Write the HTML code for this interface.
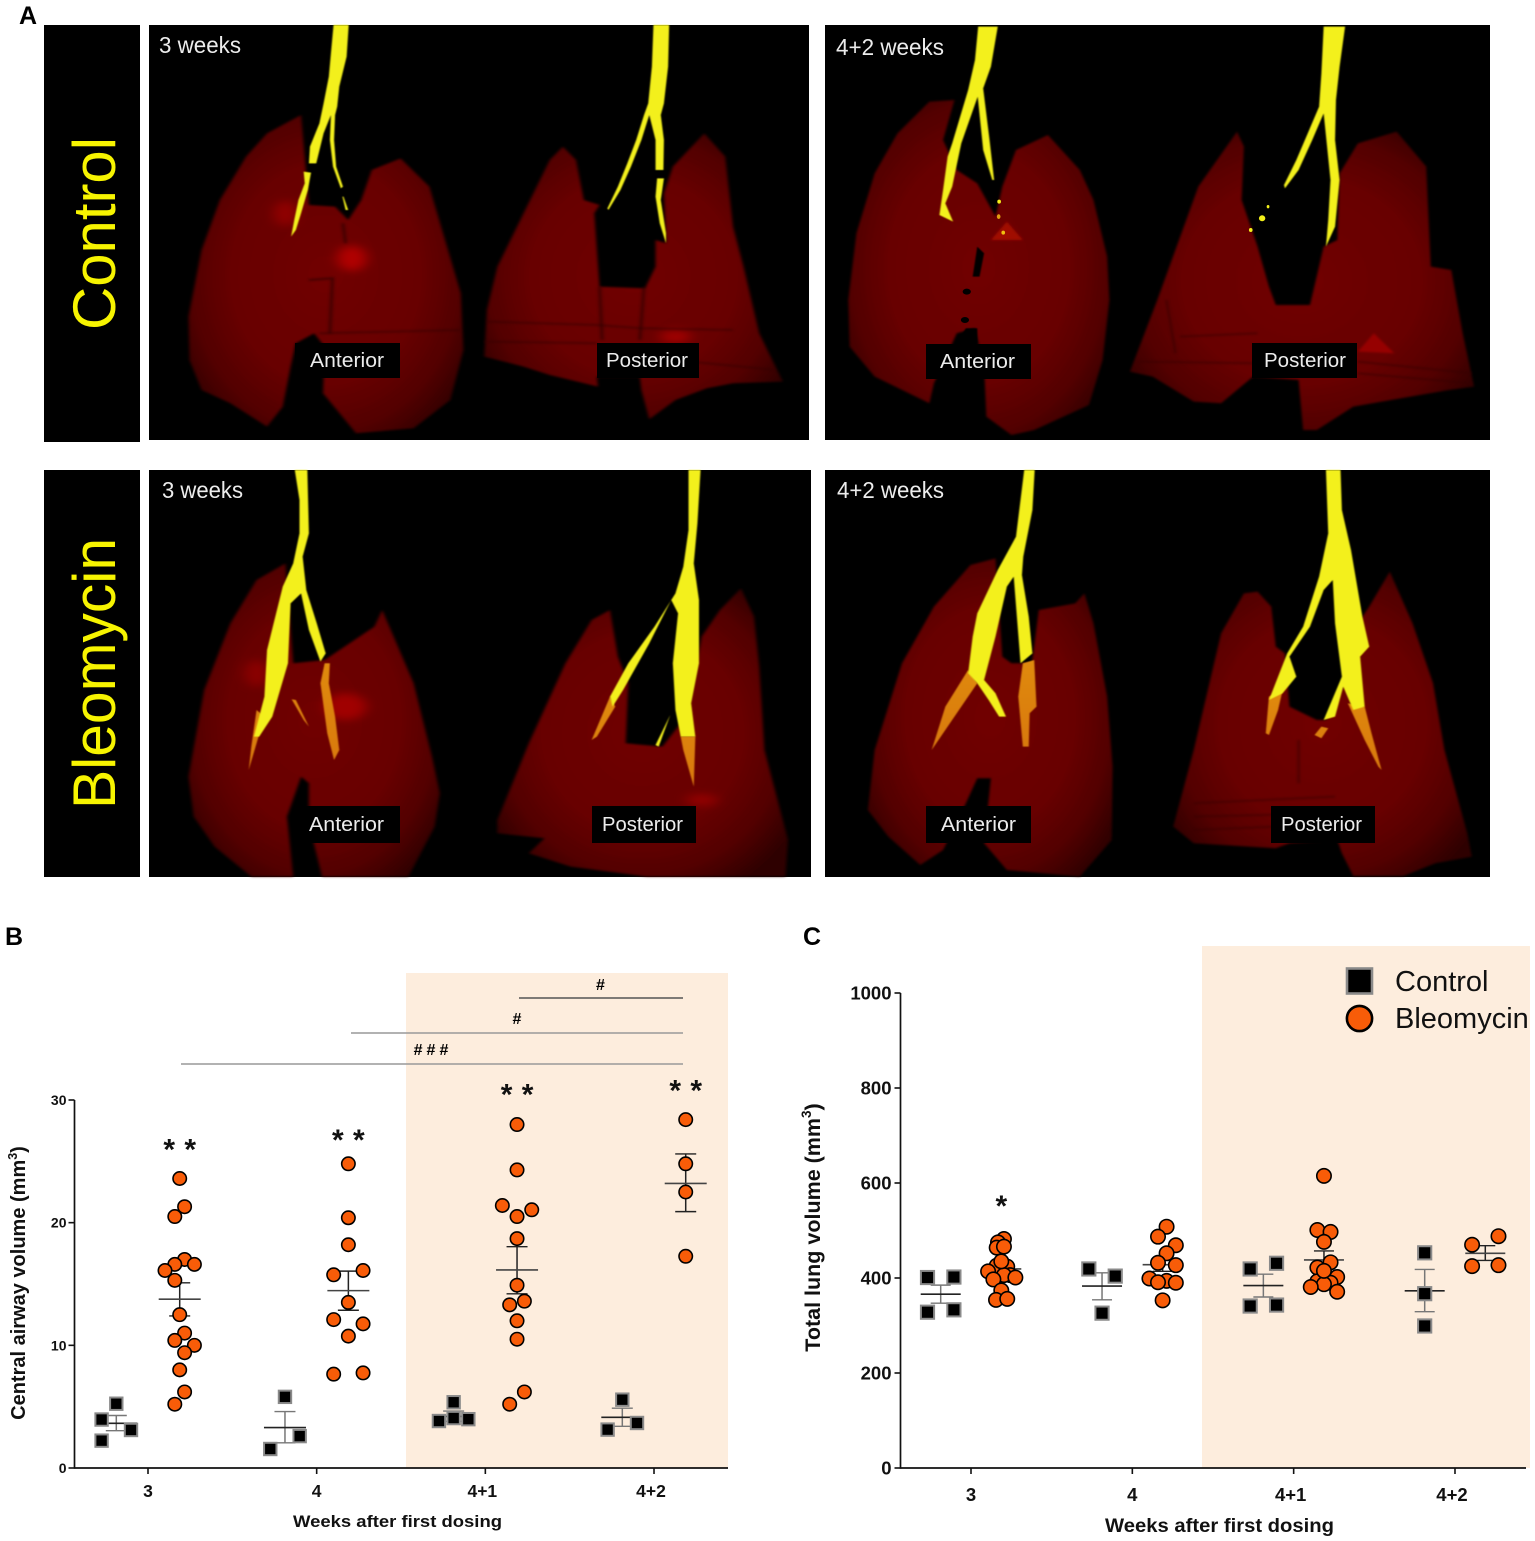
<!DOCTYPE html>
<html lang="en">
<head>
<meta charset="utf-8">
<title>Airway and lung volume after bleomycin dosing</title>
<style>
html,body{margin:0;padding:0;background:#fff;}
svg{display:block;font-family:"Liberation Sans",sans-serif;}
</style>
</head>
<body>
<svg id="figure" xmlns="http://www.w3.org/2000/svg" width="1535" height="1541" viewBox="0 0 1535 1541">
<defs>
<radialGradient id="lungFill" cx="50%" cy="50%" r="62%">
<stop offset="0%" stop-color="#700000"/><stop offset="55%" stop-color="#680000"/><stop offset="80%" stop-color="#520000"/><stop offset="100%" stop-color="#2e0000"/>
</radialGradient>
<linearGradient id="orangeFill" x1="0" y1="0" x2="0" y2="1">
<stop offset="0%" stop-color="#e08a10"/><stop offset="100%" stop-color="#d87810"/>
</linearGradient>
<filter id="softLung" x="-5%" y="-5%" width="110%" height="110%"><feGaussianBlur stdDeviation="3"/></filter>
<filter id="softPatch" x="-60%" y="-60%" width="220%" height="220%"><feGaussianBlur stdDeviation="12"/></filter>
<filter id="softBand" x="-5%" y="-20%" width="110%" height="140%"><feGaussianBlur stdDeviation="3"/></filter>
<filter id="softTree" x="-10%" y="-5%" width="120%" height="110%"><feGaussianBlur stdDeviation="1.6"/></filter>
</defs>
<rect width="1535" height="1541" fill="#fff"/>

<!-- PANEL A -->
<g>
<text x="19" y="24" font-size="25" font-weight="bold">A</text>

<rect x="44" y="25" width="96" height="417" fill="#000"/>
<text transform="translate(115 330) rotate(-90)" font-size="60" fill="#f7f400" textLength="193" lengthAdjust="spacingAndGlyphs">Control</text>
<rect x="44" y="470" width="96" height="407" fill="#000"/>
<text transform="translate(115 809) rotate(-90)" font-size="60" fill="#f7f400" textLength="271" lengthAdjust="spacingAndGlyphs">Bleomycin</text>

<rect x="149" y="25" width="660" height="415" fill="#000"/>
<rect x="825" y="25" width="665" height="415" fill="#000"/>
<rect x="149" y="470" width="662" height="407" fill="#000"/>
<rect x="825" y="470" width="665" height="407" fill="#000"/>

<g transform="matrix(0.5236 0 0 0.3333 0 0)">
<path filter="url(#softLung)" fill="url(#lungFill)" d="M575 345L510 400L470 470L420 600L385 750L360 950L362 1080L385 1170L440 1210L510 1280L540 1220L555 1100L565 1030L600 1000L620 1040L617 1180L680 1300L790 1285L860 1200L885 1050L880 880L850 720L820 560L765 475L710 510L690 600L665 660L640 620L590 615Z"/>
<path filter="url(#softLung)" fill="url(#lungFill)" d="M1075 440L1100 480L1115 600L1145 615L1135 640L1145 860L1232 865L1252 800L1252 720L1272 730L1268 580L1285 500L1345 400L1385 470L1400 680L1420 800L1450 1000L1495 1145L1400 1150L1350 1165L1290 1200L1240 1258L1225 1170L1222 1130L1140 1130L1142 1160L1050 1125L1000 1100L925 1070L930 930L950 800L1000 640L1050 480Z"/>
<ellipse cx="672" cy="775" rx="28" ry="38" fill="#b00000" filter="url(#softPatch)"/>
<ellipse cx="545" cy="640" rx="22" ry="38" fill="#900000" filter="url(#softPatch)"/>
<ellipse cx="1290" cy="1010" rx="30" ry="20" fill="#a00000" filter="url(#softPatch)"/>
<path filter="url(#softBand)" d="M930 965L1140 975L1225 985L1400 990M925 1025L1140 1030M1220 1070L1480 1110M610 1000L880 990" stroke="#320000" stroke-width="6" fill="none" opacity=".5"/>
<path filter="url(#softBand)" d="M655 670L660 730M590 840L635 835L630 1000M1145 860L1150 1020M1230 860L1222 1020" stroke="#280000" stroke-width="6" fill="none" opacity=".6"/>
<path filter="url(#softTree)" fill="#f3f01a" d="M637 75L666 75L662 170L648 260L644 320L640 345L638 420L642 500L655 560L651 565L636 500L630 420L632 345L618 400L604 490L590 490L592 440L610 370L618 310L628 230L632 160Z M580 515L594 518L588 570L575 640L565 690L556 710L562 660L570 600L582 550Z M656 590L665 630L660 630L654 590Z"/>
<path filter="url(#softTree)" fill="#f3f01a" d="M1248 75L1278 75L1276 200L1268 310L1262 345L1268 420L1267 510L1252 510L1252 420L1240 345L1225 420L1205 500L1185 570L1162 630L1160 625L1180 560L1198 490L1215 420L1230 345L1238 310L1245 200Z M1255 535L1268 535L1262 600L1272 700L1272 730L1260 670L1252 590Z"/>
</g>

<g transform="matrix(0.4558 0 0 0.3333 820 0)">
<path filter="url(#softLung)" fill="url(#lungFill)" d="M295 300L240 305L170 400L120 520L80 700L62 900L65 1040L120 1130L240 1210L250 1150L300 1000L340 985L360 1100L365 1250L420 1305L470 1290L590 1215L620 1080L635 900L630 770L600 600L570 510L500 405L430 450L400 560L385 650L345 550L300 510L270 420Z"/>
<path filter="url(#softLung)" fill="url(#lungFill)" d="M915 395L930 440L925 600L960 740L985 860L1000 915L1075 915L1105 740L1135 720L1140 520L1180 430L1265 395L1330 500L1340 800L1385 810L1410 1000L1435 1160L1380 1170L1170 1220L1090 1290L1060 1290L1050 1140L950 1130L880 1210L820 1205L730 1130L680 1115L740 900L830 560Z"/>
<path d="M375 720L410 665L445 720Z" fill="#a01000" filter="url(#softBand)"/>
<path d="M1180 1055L1215 1000L1260 1060Z" fill="#960000" filter="url(#softBand)"/>
<path filter="url(#softTree)" d="M345 740L360 760L350 830L335 830Z M320 985L345 985L345 1030L300 1030Z" fill="#000"/>
<circle cx="322" cy="875" r="9" fill="#000"/>
<circle cx="318" cy="960" r="9" fill="#000"/>
<path filter="url(#softBand)" d="M700 1085L950 1090M790 1010L960 1000M1180 1085L1430 1120M1180 1120L1430 1150M760 900L780 1060" stroke="#340000" stroke-width="6" fill="none" opacity=".5"/>
<path filter="url(#softTree)" fill="#f3f01a" d="M347 80L390 80L375 200L358 265L372 420L382 540L378 540L358 450L346 290L310 430L290 560L275 610L292 665L262 645L270 570L280 470L290 430L325 270L340 180Z"/>
<path filter="url(#softTree)" fill="#f3f01a" d="M1105 80L1152 80L1140 200L1132 300L1130 420L1140 540L1130 680L1110 740L1115 660L1120 540L1105 340L1080 420L1050 510L1020 565L1018 555L1045 480L1070 400L1095 320L1100 220Z"/>
<ellipse cx="970" cy="655" rx="7" ry="9" fill="#f3f01a"/>
<ellipse cx="945" cy="690" rx="4" ry="6" fill="#f3f01a"/>
<ellipse cx="983" cy="620" rx="3" ry="5" fill="#f3f01a"/>
<ellipse cx="393" cy="605" rx="4" ry="6" fill="#f3f01a"/>
<ellipse cx="392" cy="650" rx="4" ry="7" fill="#e0a010"/>
<ellipse cx="402" cy="698" rx="4" ry="6" fill="#f0c010"/>
</g>

<g transform="matrix(0.5236 0 0 0.3333 0 450)">
<path filter="url(#softLung)" fill="url(#lungFill)" d="M545 340L490 390L440 520L390 720L360 980L370 1100L410 1190L480 1280L560 1280L548 1100L575 980L590 1000L590 1120L615 1280L780 1280L830 1130L840 1030L825 920L790 700L730 480L715 530L620 630L560 640Z"/>
<path filter="url(#softLung)" fill="url(#lungFill)" d="M1165 480L1130 510L1080 640L1010 880L950 1110L950 1150L1040 1165L1010 1210L1090 1250L1235 1280L1500 1280L1505 1170L1460 900L1450 650L1440 500L1415 415L1375 480L1340 560L1310 800L1265 890L1195 880L1200 700L1180 620Z"/>
<ellipse cx="660" cy="770" rx="40" ry="40" fill="#a00000" filter="url(#softPatch)"/>
<ellipse cx="490" cy="670" rx="22" ry="40" fill="#8a0000" filter="url(#softPatch)"/>
<ellipse cx="1340" cy="1050" rx="30" ry="18" fill="#920000" filter="url(#softPatch)"/>
<path filter="url(#softTree)" fill="url(#orangeFill)" d="M620 640L630 640L628 700L640 800L648 900L638 930L625 850L612 700Z M490 780L505 800L490 880L475 960L480 890Z M557 748L565 750L590 830L580 810Z"/>
<path filter="url(#softTree)" fill="#f3f01a" d="M563 60L587 60L590 250L578 320L585 420L605 520L622 610L612 635L590 540L575 430L555 460L550 640L520 800L495 860L485 860L505 740L510 600L540 410L560 340L572 250L572 150Z"/>
<path filter="url(#softTree)" fill="url(#orangeFill)" d="M1300 860L1328 860L1325 1010L1305 900Z M1165 740L1175 770L1140 860L1130 870Z"/>
<path filter="url(#softTree)" fill="#f3f01a" d="M1315 60L1338 60L1332 220L1325 340L1335 450L1335 640L1320 760L1328 860L1300 860L1290 780L1285 640L1295 490L1282 450L1240 580L1190 720L1170 770L1165 740L1200 640L1250 530L1290 430L1305 350L1315 240Z M1280 795L1258 890L1252 885Z"/>
</g>

<g transform="matrix(0.4558 0 0 0.3333 820 450)">
<path filter="url(#softLung)" fill="url(#lungFill)" d="M385 325L330 345L250 470L180 640L120 900L105 1080L150 1160L220 1245L270 1200L320 1060L345 985L375 985L360 1180L410 1260L570 1280L640 1170L642 950L630 740L600 520L580 430L560 460L480 480L465 640L420 640L400 620Z"/>
<path filter="url(#softLung)" fill="url(#lungFill)" d="M960 425L990 470L1000 590L1020 610L1030 770L1090 810L1110 810L1150 700L1160 560L1205 470L1250 365L1300 520L1345 700L1370 900L1420 1150L1430 1220L1350 1240L1280 1278L1170 1278L1145 1210L1135 1170L1030 1180L1000 1195L820 1180L775 1130L820 900L880 550L930 430Z"/>
<path filter="url(#softBand)" d="M820 1060L1130 1040M820 1100L1130 1090M820 1140L1000 1130M1050 870L1050 1000" stroke="#300000" stroke-width="6" fill="none" opacity=".45"/>
<path filter="url(#softTree)" fill="url(#orangeFill)" d="M325 660L345 700L330 730L280 830L245 900L275 770Z M445 640L470 630L475 770L460 790L458 890L445 890L435 740Z"/>
<path filter="url(#softTree)" fill="#f3f01a" d="M448 60L471 60L466 180L446 320L443 375L458 500L466 610L440 640L425 380L410 410L385 560L360 690L385 730L408 800L393 800L370 750L345 700L325 670L335 560L345 490L390 360L430 260Z"/>
<path filter="url(#softTree)" fill="url(#orangeFill)" d="M1158 760L1195 770L1210 850L1232 960L1225 950L1195 870Z M985 740L1015 720L1005 780L985 855L978 850Z M1100 830L1115 835L1100 865L1085 855Z"/>
<path filter="url(#softTree)" fill="#f3f01a" d="M1110 60L1142 60L1145 180L1165 300L1190 500L1205 590L1185 620L1195 770L1170 780L1148 710L1130 800L1105 810L1145 680L1130 520L1125 390L1105 420L1075 530L1030 620L1045 680L1015 730L985 750L1005 680L1025 610L1060 530L1095 380L1115 250Z"/>
</g>

<g fill="#ececec" font-size="23">
<text x="159" y="53" textLength="82" lengthAdjust="spacingAndGlyphs">3 weeks</text>
<text x="836" y="55" textLength="108" lengthAdjust="spacingAndGlyphs">4+2 weeks</text>
<text x="162" y="498" textLength="81" lengthAdjust="spacingAndGlyphs">3 weeks</text>
<text x="837" y="498" textLength="107" lengthAdjust="spacingAndGlyphs">4+2 weeks</text>
</g>
<g fill="#ececec" font-size="20.5">
<rect x="295" y="343" width="105" height="35" fill="#000"/>
<text x="310" y="367" textLength="74" lengthAdjust="spacingAndGlyphs">Anterior</text>
<rect x="597" y="343" width="102" height="35" fill="#000"/>
<text x="606" y="367" textLength="82" lengthAdjust="spacingAndGlyphs">Posterior</text>
<rect x="926" y="344" width="105" height="35" fill="#000"/>
<text x="940" y="368" textLength="75" lengthAdjust="spacingAndGlyphs">Anterior</text>
<rect x="1252" y="343" width="105" height="35" fill="#000"/>
<text x="1264" y="367" textLength="82" lengthAdjust="spacingAndGlyphs">Posterior</text>
<rect x="295" y="806" width="105" height="37" fill="#000"/>
<text x="309" y="831" textLength="75" lengthAdjust="spacingAndGlyphs">Anterior</text>
<rect x="592" y="806" width="104" height="37" fill="#000"/>
<text x="602" y="831" textLength="81" lengthAdjust="spacingAndGlyphs">Posterior</text>
<rect x="926" y="806" width="105" height="37" fill="#000"/>
<text x="941" y="831" textLength="75" lengthAdjust="spacingAndGlyphs">Anterior</text>
<rect x="1271" y="806" width="104" height="37" fill="#000"/>
<text x="1281" y="831" textLength="81" lengthAdjust="spacingAndGlyphs">Posterior</text>
</g>
</g>

<!-- PANEL B static -->
<g>
<text x="5" y="945" font-size="25" font-weight="bold">B</text>
<rect x="406" y="973" width="322" height="495" fill="#fdeddd"/>
<g id="chartB"></g>
<text transform="translate(25 1283) rotate(-90)" text-anchor="middle" font-size="20" font-weight="bold" fill="#111">Central airway volume (mm<tspan font-size="12.5" dy="-8">3</tspan><tspan dy="8">)</tspan></text>
<text x="293" y="1527" font-size="17" font-weight="bold" fill="#111" textLength="209" lengthAdjust="spacingAndGlyphs">Weeks after first dosing</text>
<line x1="519" y1="998" x2="683" y2="998" stroke="#555" stroke-width="1.4"/>
<text x="600.5" y="990" text-anchor="middle" font-size="16" font-weight="bold">#</text>
<line x1="351" y1="1033" x2="683" y2="1033" stroke="#999" stroke-width="1.4"/>
<text x="517" y="1024" text-anchor="middle" font-size="16" font-weight="bold">#</text>
<line x1="181" y1="1064" x2="683" y2="1064" stroke="#999" stroke-width="1.4"/>
<text x="433" y="1055" text-anchor="middle" font-size="16" font-weight="bold" letter-spacing="4">###</text>
</g>

<!-- PANEL C static -->
<g>
<text x="803" y="945" font-size="25" font-weight="bold">C</text>
<rect x="1202" y="946" width="328" height="522" fill="#fdeddd"/>
<g id="chartC"></g>
<text transform="translate(820 1227.5) rotate(-90)" text-anchor="middle" font-size="21.5" font-weight="bold" fill="#111">Total lung volume (mm<tspan font-size="13.5" dy="-9">3</tspan><tspan dy="9">)</tspan></text>
<text x="1105" y="1532" font-size="19" font-weight="bold" fill="#111" textLength="229" lengthAdjust="spacingAndGlyphs">Weeks after first dosing</text>
<g>
<rect x="1347" y="968.5" width="25" height="25" fill="#000" stroke="#8a8a8a" stroke-width="2.6"/>
<text x="1395" y="991" font-size="29" fill="#111">Control</text>
<circle cx="1359.5" cy="1018.5" r="12.6" fill="#f85c08" stroke="#000" stroke-width="2.6"/>
<text x="1395" y="1028" font-size="29" fill="#111">Bleomycin</text>
</g>
</g>
</svg>

<script>
/* Shared */
const weekLabels = ['3', '4', '4+1', '4+2'];

/* Panel B: central airway volume (mm3) */
const airwayTicks = [0, 10, 20, 30];
const airwayControlValues = [
  [5.24, 3.95, 3.1, 2.23],
  [5.8, 2.6, 1.55],
  [5.36, 4.07, 3.83, 3.98],
  [5.57, 3.67, 3.13]
];
const airwayControlColumns = [
  [0, -3, 3, -3],
  [0, 3, -3],
  [0, 0, -3, 3],
  [0, 3, -3]
];
const airwayControlMean = [3.64, 3.3, 4.2, 4.13];
const airwayControlUpper = [4.28, 4.6, 4.64, 4.88];
const airwayControlLower = [3.04, 2.05, 3.8, 3.4];
const airwayBleoValues = [
  [23.6, 21.3, 20.5, 17.0, 16.6, 16.6, 16.1, 15.3, 12.5, 11.0, 10.4, 10.0, 9.4, 8.0, 6.2, 5.2],
  [24.8, 20.4, 18.2, 16.1, 15.75, 13.5, 12.1, 11.75, 10.75, 7.65, 7.75],
  [28.0, 24.3, 21.4, 21.05, 20.5, 18.7, 14.9, 13.6, 13.3, 12.0, 10.5, 6.2, 5.2],
  [28.4, 24.8, 22.5, 17.26]
];
const airwayBleoColumns = [
  [0, 1, -1, 1, -1, 3, -3, -1, 0, 1, -1, 3, 1, 0, 1, -1],
  [0, 0, 0, 3, -3, 0, -3, 3, 0, -3, 3],
  [0, 0, -3, 3, 0, 0, 0, 1.5, -1.5, 0, 0, 1.5, -1.5],
  [0, 0, 0, 0]
];
const airwayBleoMean = [13.76, 14.46, 16.15, 23.2];
const airwayBleoUpper = [15.1, 16.05, 18.04, 25.6];
const airwayBleoLower = [12.4, 12.86, 14.2, 20.9];
const airwayStarLevels = [26.2, 27.0, 30.7, 31.0];
const airwayStarCounts = [2, 2, 2, 2];

/* Panel C: total lung volume (mm3) */
const lungTicks = [0, 200, 400, 600, 800, 1000];
const lungControlValues = [
  [401, 402, 328, 333],
  [419, 404, 326],
  [431, 419, 341, 343],
  [453, 367, 299]
];
const lungControlColumns = [
  [-3, 3, -3, 3],
  [-3, 3, 0],
  [3, -3, -3, 3],
  [0, 0, 0]
];
const lungControlMean = [366, 383, 384, 373];
const lungControlUpper = [385, 411, 408, 418];
const lungControlLower = [347, 354, 360, 329];
const lungBleoValues = [
  [482, 475, 464, 426, 424, 414, 406, 406, 401, 397, 374, 354, 356, 466, 435],
  [508, 487, 469, 452, 432, 427, 399, 394, 391, 390, 353],
  [615, 501, 497, 476, 433, 422, 393, 402, 390, 387, 381, 371, 415],
  [488, 470, 425, 427]
];
const lungBleoColumns = [
  [0.6, -0.75, -1.05, -1.05, 1.35, -3, 2, 0.6, 3.2, -1.8, 0, -1.2, 1.35, 0.6, 0],
  [0.9, -1.05, 3, 0.9, -1.05, 3, -3, 0.9, -1.05, 3, 0],
  [0, -1.5, 1.5, 0, 1.5, -1.5, -1.5, 3, 1.5, 0, -3, 3, 0],
  [3, -3, -3, 3]
];
const lungBleoMean = [419, 428, 438, 452];
const lungBleoUpper = [430, 441, 457, 468];
const lungBleoLower = [407, 414, 419, 437];
const lungStarLevels = [558, null, null, null];
const lungStarCounts = [1, 0, 0, 0];

const SVG_NS = 'http://www.w3.org/2000/svg';

function mk(tag, attrs, parent) {
  const node = document.createElementNS(SVG_NS, tag);
  for (const key in attrs) node.setAttribute(key, attrs[key]);
  parent.appendChild(node);
  return node;
}

function drawErrorBar(parent, cx, mean, upper, lower, yScale, opts) {
  const group = mk('g', {}, parent);
  
  
  const stem = mk('line', {x1: cx, x2: cx, y1: yScale(upper), y2: yScale(lower), stroke: opts.barColor, 'stroke-width': 1.5}, group);
  
  
  const top = mk('line', {x1: cx - opts.cap, x2: cx + opts.cap, y1: yScale(upper), y2: yScale(upper), stroke: opts.barColor, 'stroke-width': 1.4}, group);
  
  
  const bottom = mk('line', {x1: cx - opts.cap, x2: cx + opts.cap, y1: yScale(lower), y2: yScale(lower), stroke: opts.barColor, 'stroke-width': 1.4}, group);
  
  
  const meanLine = mk('line', {x1: cx - opts.meanHalf, x2: cx + opts.meanHalf, y1: yScale(mean), y2: yScale(mean), stroke: opts.meanColor, 'stroke-width': 1.6}, group);
  
  
}

function drawChart(root, c) {
  /* axis lines */
  const yAxis = mk('line', {x1: c.axisX, x2: c.axisX, y1: c.y(c.ticks[0]) + 0.8, y2: c.y(c.ticks[c.ticks.length - 1]), stroke: '#111', 'stroke-width': 1.7}, root);
  
  
  const xAxis = mk('line', {x1: c.axisX, x2: c.axisEnd, y1: c.y(0), y2: c.y(0), stroke: '#111', 'stroke-width': 1.7}, root);
  
  

  c.ticks.forEach(function (t) {
    const mark = mk('line', {x1: c.axisX - 6, x2: c.axisX, y1: c.y(t), y2: c.y(t), stroke: '#111', 'stroke-width': 1.6}, root);
    
    
    const label = mk('text', {x: c.axisX - c.yLabelGap, y: c.y(t) + c.yFont * 0.36, 'text-anchor': 'end', 'font-size': c.yFont, 'font-weight': 'bold', fill: '#111'}, root);
    label.textContent = t;
    
    
  });

  weekLabels.forEach(function (wk, i) {
    const px = c.x(i);
    const mark = mk('line', {x1: px, x2: px, y1: c.y(0), y2: c.y(0) + 6, stroke: '#111', 'stroke-width': 1.6}, root);
    
    
    const label = mk('text', {x: px - (wk.length > 1 ? 3 : 0), y: c.xLabelY, 'text-anchor': 'middle', 'font-size': c.xFont, 'font-weight': 'bold', fill: '#111'}, root);
    label.textContent = wk;
    
    

    const controlX = px - c.offset;
    const bleoX = px + c.offset;

    drawErrorBar(root, controlX, c.controlMean[i], c.controlUpper[i], c.controlLower[i], c.y, {name: 'control', barColor: '#777', meanColor: '#222', cap: c.cap, meanHalf: c.meanHalf});
    drawErrorBar(root, bleoX, c.bleoMean[i], c.bleoUpper[i], c.bleoLower[i], c.y, {name: 'bleomycin', barColor: '#222', meanColor: '#444', cap: c.cap, meanHalf: c.meanHalf});

    c.controlValues[i].forEach(function (v, j) {
      const s = c.squareSize;
      const square = mk('rect', {x: controlX + c.controlColumns[i][j] * c.slot - s / 2, y: c.y(v) - s / 2, width: s, height: s, fill: '#000', stroke: '#8a8a8a', 'stroke-width': 2}, root);
      
      
    });

    c.bleoValues[i].forEach(function (v, j) {
      const dot = mk('circle', {cx: bleoX + c.bleoColumns[i][j] * c.slot, cy: c.y(v), r: c.radius, fill: '#f85c08', stroke: '#000', 'stroke-width': 1.6}, root);
      
      
    });

    for (let k = 0; k < c.starCounts[i]; k++) {
      const shift = c.starCounts[i] === 2 ? (k === 0 ? -10.5 : 10.5) : 0;
      const star = mk('text', {x: bleoX + shift, y: c.y(c.starLevels[i]) + 13, 'text-anchor': 'middle', 'font-size': 30, 'font-weight': 'bold', fill: '#111'}, root);
      star.textContent = '*';
      
      
    }
  });
}

drawChart(document.getElementById('chartB'), {
  ticks: airwayTicks,
  y: function (v) { return 1468 - v * (368 / 30); },
  x: function (i) { return 148 + i * 168.67; },
  axisX: 74.5, axisEnd: 728, yLabelGap: 8, yFont: 14, xFont: 17.5, xLabelY: 1497,
  offset: 31.7, slot: 4.9, cap: 10.5, meanHalf: 21, squareSize: 12.4, radius: 6.7,
  controlValues: airwayControlValues, controlColumns: airwayControlColumns,
  controlMean: airwayControlMean, controlUpper: airwayControlUpper, controlLower: airwayControlLower,
  bleoValues: airwayBleoValues, bleoColumns: airwayBleoColumns,
  bleoMean: airwayBleoMean, bleoUpper: airwayBleoUpper, bleoLower: airwayBleoLower,
  starLevels: airwayStarLevels, starCounts: airwayStarCounts
});

drawChart(document.getElementById('chartC'), {
  ticks: lungTicks,
  y: function (v) { return 1468 - v * 0.475; },
  x: function (i) { return 971 + i * 161.33; },
  axisX: 900.5, axisEnd: 1526, yLabelGap: 9, yFont: 18.5, xFont: 18.5, xLabelY: 1501,
  offset: 30.3, slot: 4.4, cap: 10, meanHalf: 20, squareSize: 13.2, radius: 7.2,
  controlValues: lungControlValues, controlColumns: lungControlColumns,
  controlMean: lungControlMean, controlUpper: lungControlUpper, controlLower: lungControlLower,
  bleoValues: lungBleoValues, bleoColumns: lungBleoColumns,
  bleoMean: lungBleoMean, bleoUpper: lungBleoUpper, bleoLower: lungBleoLower,
  starLevels: lungStarLevels, starCounts: lungStarCounts
});
</script>
</body>
</html>
